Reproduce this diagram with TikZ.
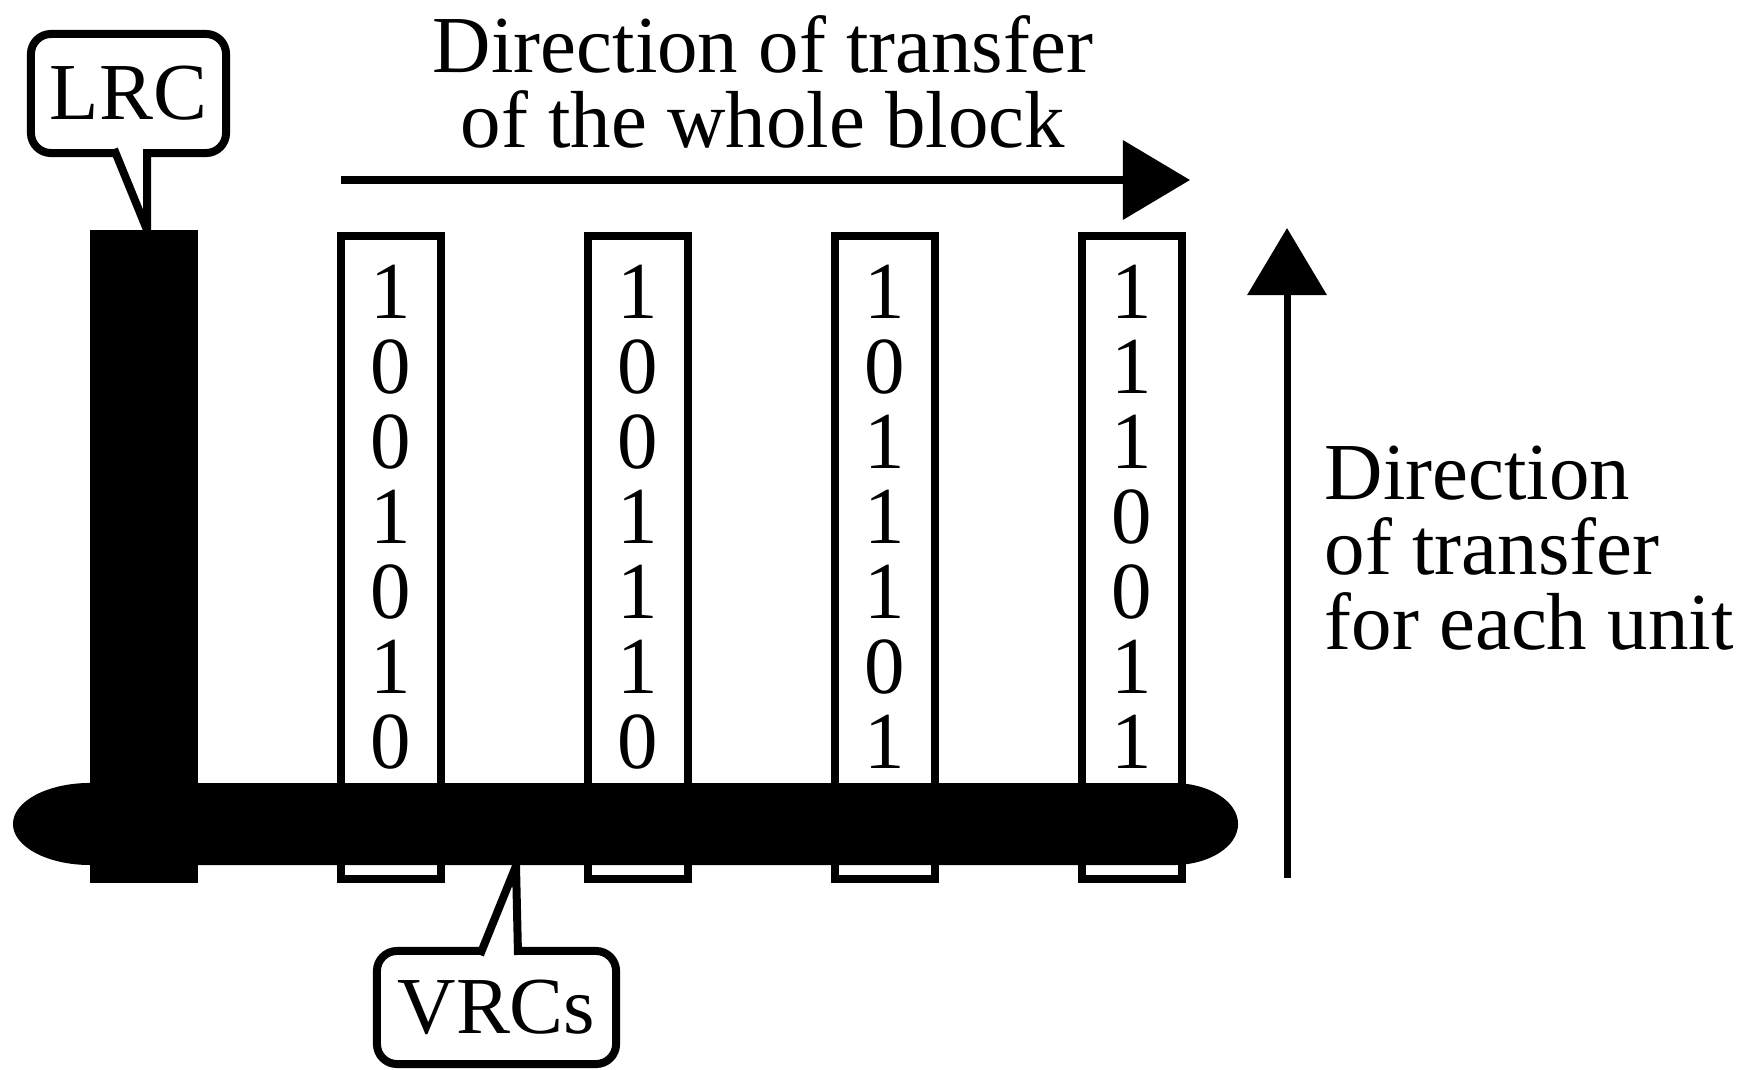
\documentclass[tikz,border=0pt]{standalone}
\usepackage{fontspec}
\setmainfont{Liberation Serif}
\usetikzlibrary{arrows.meta,positioning}

\begin{document}
\begin{tikzpicture}[x=0.01cm, y=-0.01cm, line join=miter,
		every node/.style={font=\fontsize{23}{21.3}\selectfont},
		vrc/.style={draw, line width=0.08cm, fill=white, minimum width=1cm, minimum height=6.43cm, inner sep=0pt, outer sep=0pt},
		bits/.style={align=center, inner sep=0pt, anchor=north},
		lrcbar/.style={fill=black, minimum width=1.08cm, minimum height=6.53cm, inner sep=0pt, outer sep=0pt},
		callout/.style={draw, line width=0.08cm, rounded corners=0.2cm, fill=white, inner sep=0pt, outer sep=0pt},
		tail/.style={draw, line width=0.08cm, fill=white},
		transfer/.style={line width=0.07cm, -{Triangle[length=0.67cm, width=0.78cm]}}]
					\useasboundingbox (0,0) rectangle (1755,1070);
			
					\node[vrc] (vrc1) at (391,557.5) {};
					\node[vrc] (vrc2) at (638,557.5) {};
					\node[vrc] (vrc3) at (885,557.5) {};
					\node[vrc] (vrc4) at (1132,557.5) {};
					\node[bits, below=0.29cm of vrc1.north] (bits1) {1\\0\\0\\1\\0\\1\\0};
					\node[bits, below=0.29cm of vrc2.north] (bits2) {1\\0\\0\\1\\1\\1\\0};
					\node[bits, below=0.29cm of vrc3.north] (bits3) {1\\0\\1\\1\\1\\0\\1};
					\node[bits, below=0.29cm of vrc4.north] (bits4) {1\\1\\1\\0\\0\\1\\1};
			
					\fill (90,783) -- (1173,783) arc[start angle=90, end angle=-90, x radius=0.65cm, y radius=0.41cm]
						-- (90,865) arc[start angle=270, end angle=90, x radius=0.77cm, y radius=0.41cm] -- cycle;
					\node[lrcbar] (lrcbar) at (144,556.5) {};
			
					\node[callout, minimum width=1.95cm, minimum height=1.19cm] (lrc) at (128.5,93.5) {LRC};
					\draw[tail] ([shift={(-0.145cm,0.04cm)}]lrc.south) -- ([xshift=0.03cm]lrcbar.north) -- ([shift={(0.185cm,0.04cm)}]lrc.south);
			
					\coordinate (bandtip) at (516,866);
					\node[callout, minimum width=2.39cm, minimum height=1.13cm] (vrcs) at (496.5,1007.5) {VRCs};
					\draw[tail] ([shift={(-0.165cm,-0.04cm)}]vrcs.north) -- (bandtip) -- ([shift={(0.215cm,-0.04cm)}]vrcs.north);
			
					\coordinate (blockstart) at (341,180);
					\coordinate (blockend) at (1190,180);
					\draw[transfer] (blockstart) -- (blockend);
					\node[align=center, anchor=north, inner sep=0pt] (blocktext) at (763,15) {Direction of transfer\\of the whole block};
			
					\coordinate (unitstart) at (1287,878);
					\coordinate (unitend) at (1287,228);
					\draw[transfer] (unitstart) -- (unitend);
					\node[align=left, anchor=north west, inner sep=0pt] (unittext) at (1324,445) {Direction\\of transfer\\for each unit};
				\end{tikzpicture}
\end{document}
